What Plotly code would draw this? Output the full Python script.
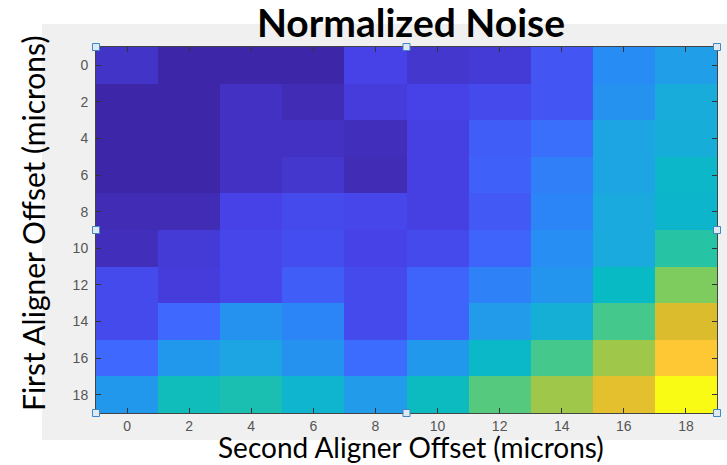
import plotly.graph_objects as go

# Offsets (microns) for the two aligners
second_offsets = [0, 2, 4, 6, 8, 10, 12, 14, 16, 18]
first_offsets = [0, 2, 4, 6, 8, 10, 12, 14, 16, 18]
tick_labels = [str(v) for v in second_offsets]

# Normalized noise, one row per first-aligner offset
noise_0 = [0.05, 0.00, 0.00, 0.00, 0.10, 0.06, 0.07, 0.15, 0.30, 0.36]
noise_2 = [0.00, 0.00, 0.04, 0.02, 0.08, 0.10, 0.12, 0.15, 0.32, 0.41]
noise_4 = [0.00, 0.00, 0.04, 0.04, 0.03, 0.09, 0.17, 0.22, 0.38, 0.42]
noise_6 = [0.00, 0.00, 0.04, 0.06, 0.02, 0.09, 0.18, 0.26, 0.38, 0.48]
noise_8 = [0.02, 0.02, 0.10, 0.12, 0.11, 0.09, 0.16, 0.28, 0.40, 0.47]
noise_10 = [0.03, 0.07, 0.11, 0.13, 0.10, 0.12, 0.19, 0.31, 0.40, 0.57]
noise_12 = [0.12, 0.08, 0.11, 0.17, 0.12, 0.19, 0.27, 0.33, 0.50, 0.69]
noise_14 = [0.12, 0.20, 0.32, 0.28, 0.12, 0.19, 0.35, 0.43, 0.62, 0.80]
noise_16 = [0.20, 0.34, 0.38, 0.32, 0.21, 0.34, 0.49, 0.62, 0.73, 0.90]
noise_18 = [0.34, 0.52, 0.54, 0.46, 0.35, 0.51, 0.64, 0.73, 0.83, 1.00]

noise = [noise_0, noise_2, noise_4, noise_6, noise_8,
         noise_10, noise_12, noise_14, noise_16, noise_18]

# MATLAB-style parula colormap
parula = [
    [0.0, "rgb(62,38,168)"],
    [0.1, "rgb(71,66,232)"],
    [0.2, "rgb(62,104,254)"],
    [0.3, "rgb(40,140,245)"],
    [0.4, "rgb(26,170,222)"],
    [0.5, "rgb(8,186,196)"],
    [0.6, "rgb(52,199,152)"],
    [0.7, "rgb(134,204,86)"],
    [0.8, "rgb(218,188,44)"],
    [0.9, "rgb(253,200,52)"],
    [1.0, "rgb(249,251,20)"],
]

fig = go.Figure(
    go.Heatmap(
        x=second_offsets,
        y=first_offsets,
        z=noise,
        colorscale=parula,
        zmin=0,
        zmax=1,
        showscale=False,
    )
)

W, H = 727, 465
L, R, T, B = 96, 10, 47, 52
pw, ph = W - L - R, H - T - B


def px_to_paper_x(px):
    return (px - L) / pw


def px_to_paper_y(py):
    return (H - B - py) / ph


shapes = [
    # light grey figure panel behind the axes
    dict(type="rect", xref="paper", yref="paper", layer="below",
         x0=px_to_paper_x(42), x1=px_to_paper_x(727),
         y0=px_to_paper_y(440), y1=px_to_paper_y(24),
         fillcolor="#f0f0f0", line=dict(width=0)),
]

# selection handles around the axes box
for hx in (0.0, 0.5, 1.0):
    for hy in (0.0, 0.5, 1.0):
        if hx == 0.5 and hy == 0.5:
            continue
        dx, dy = 3.5 / pw, 3.5 / ph
        shapes.append(dict(type="rect", xref="paper", yref="paper",
                           x0=hx - dx, x1=hx + dx, y0=hy - dy, y1=hy + dy,
                           fillcolor="#dfe9f3", line=dict(color="#3f86c4", width=1)))

label_family = "Lato, Open Sans, sans-serif"
tick_font = dict(family="Liberation Sans Narrow, Liberation Sans, Arial", size=14, color="#555555")

annotations = [
    dict(text="Second Aligner Offset (microns)", xref="paper", yref="paper",
         x=px_to_paper_x(411), y=px_to_paper_y(447), xanchor="center", yanchor="middle",
         borderpad=0, showarrow=False,
         font=dict(family=label_family, size=28, color="black")),
    dict(text="First Aligner Offset (microns)", xref="paper", yref="paper",
         x=px_to_paper_x(33), y=px_to_paper_y(224), xanchor="center", yanchor="middle",
         textangle=-90, borderpad=0, showarrow=False,
         font=dict(family=label_family, size=30, color="black")),
]

fig.update_layout(
    width=W,
    height=H,
    margin=dict(l=L, r=R, t=T, b=B),
    paper_bgcolor="white",
    plot_bgcolor="#f0f0f0",
    shapes=shapes,
    annotations=annotations,
    title=dict(
        text="<b>Normalized Noise</b>",
        x=411 / W,
        xanchor="center",
        y=1 - 23 / H,
        yanchor="middle",
        font=dict(family=label_family, size=39, color="black"),
    ),
    xaxis=dict(
        range=[-1, 19],
        tickvals=second_offsets,
        ticktext=tick_labels,
        ticks="inside",
        ticklen=5,
        tickcolor="#333333",
        tickfont=tick_font,
        showline=True,
        linecolor="#444444",
        linewidth=1,
        mirror="ticks",
        showgrid=False,
        zeroline=False,
    ),
    yaxis=dict(
        range=[19, -1],
        tickvals=first_offsets,
        ticktext=[str(v) for v in first_offsets],
        ticks="inside",
        ticklen=5,
        tickcolor="#333333",
        tickfont=tick_font,
        ticklabelstandoff=4,
        showline=True,
        linecolor="#444444",
        linewidth=1,
        mirror="ticks",
        showgrid=False,
        zeroline=False,
    ),
)

fig.write_html("out.html")
